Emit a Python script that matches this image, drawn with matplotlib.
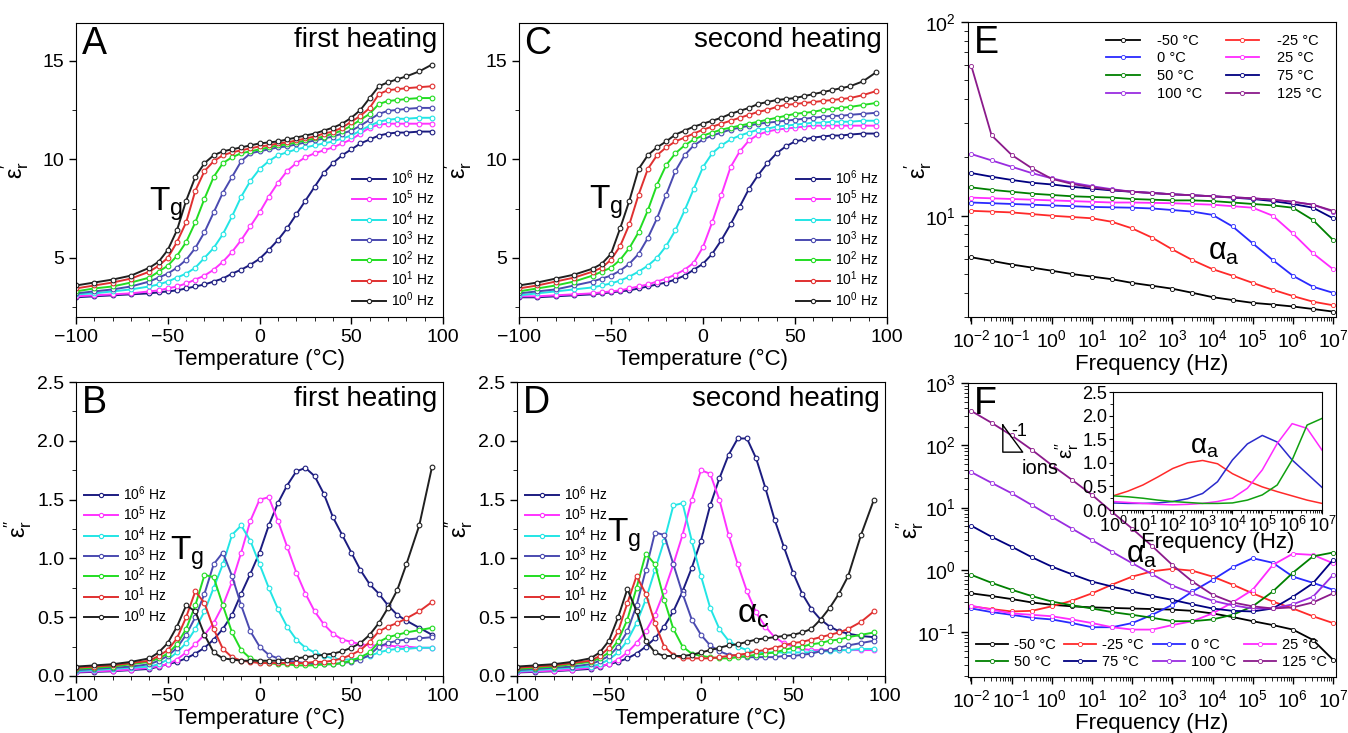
import numpy as np
import matplotlib
matplotlib.use('Agg')
import matplotlib.pyplot as plt
from matplotlib.ticker import AutoMinorLocator, LogLocator, NullFormatter, FormatStrFormatter

plt.rcParams['font.family'] = ['Liberation Sans', 'DejaVu Sans']
plt.rcParams['mathtext.fontset'] = 'custom'
plt.rcParams['mathtext.rm'] = 'Liberation Sans'
plt.rcParams['mathtext.it'] = 'Liberation Sans:italic'
plt.rcParams['mathtext.default'] = 'regular'
plt.rcParams['xtick.direction'] = 'out'
plt.rcParams['ytick.direction'] = 'out'

# ---------------- temperature sweeps (panels A-D) ----------------
T = [-100, -90, -80, -70, -60, -55, -50, -45, -40, -35, -30, -25, -20, -15, -10, -5, 0, 5, 10,
     15, 20, 25, 30, 35, 40, 45, 50, 55, 60, 65, 70, 75, 80, 87, 94]

freq_labels = ['10$^6$ Hz', '10$^5$ Hz', '10$^4$ Hz', '10$^3$ Hz', '10$^2$ Hz', '10$^1$ Hz', '10$^0$ Hz']
freq_colors = ['#1c1c80', '#ff33ff', '#22e5e5', '#4a4ab0', '#22dd22', '#e03030', '#202020']

# A: eps' first heating
A_1e6 = [3.0, 3.05, 3.1, 3.15, 3.2, 3.25, 3.3, 3.35, 3.45, 3.55, 3.65, 3.8, 3.95, 4.2, 4.4, 4.65, 4.95, 5.4, 5.9,
         6.5, 7.2, 7.9, 8.6, 9.3, 9.8, 10.2, 10.5, 10.8, 11.0, 11.2, 11.3, 11.35, 11.35, 11.4, 11.4]
A_1e5 = [3.05, 3.1, 3.15, 3.2, 3.3, 3.35, 3.45, 3.55, 3.7, 3.9, 4.1, 4.4, 4.8, 5.3, 5.9, 6.6, 7.3, 8.1, 8.8,
         9.4, 9.8, 10.1, 10.3, 10.45, 10.6, 10.8, 11.0, 11.3, 11.6, 11.75, 11.8, 11.8, 11.8, 11.8, 11.8]
A_1e4 = [3.15, 3.2, 3.3, 3.4, 3.55, 3.65, 3.8, 4.0, 4.2, 4.5, 5.0, 5.5, 6.2, 7.1, 8.1, 8.9, 9.5, 9.9, 10.2,
         10.35, 10.5, 10.6, 10.7, 10.8, 10.9, 11.05, 11.2, 11.45, 11.7, 11.9, 12.0, 12.05, 12.05, 12.1, 12.1]
A_1e3 = [3.2, 3.3, 3.4, 3.55, 3.8, 4.0, 4.2, 4.5, 4.9, 5.5, 6.3, 7.3, 8.3, 9.1, 9.9, 10.3, 10.4, 10.5, 10.6,
         10.65, 10.75, 10.85, 10.95, 11.05, 11.15, 11.3, 11.45, 11.7, 12.0, 12.3, 12.45, 12.5, 12.55, 12.6, 12.6]
A_1e2 = [3.3, 3.45, 3.55, 3.75, 4.0, 4.3, 4.6, 5.1, 5.8, 6.8, 8.0, 9.1, 9.8, 10.1, 10.3, 10.4, 10.5, 10.6, 10.7,
         10.75, 10.85, 10.95, 11.05, 11.15, 11.3, 11.45, 11.7, 12.0, 12.3, 12.8, 12.95, 13.0, 13.05, 13.1, 13.1]
A_1e1 = [3.45, 3.6, 3.75, 3.95, 4.3, 4.6, 5.0, 5.8, 6.8, 8.4, 9.4, 9.9, 10.2, 10.35, 10.45, 10.55, 10.65, 10.7, 10.8,
         10.85, 10.95, 11.05, 11.15, 11.3, 11.4, 11.6, 11.9, 12.2, 12.6, 13.3, 13.5, 13.55, 13.6, 13.65, 13.7]
A_1e0 = [3.6, 3.75, 3.9, 4.1, 4.5, 4.8, 5.4, 6.4, 7.9, 9.1, 9.8, 10.2, 10.4, 10.5, 10.6, 10.7, 10.8, 10.85, 10.9,
         11.0, 11.1, 11.2, 11.3, 11.45, 11.6, 11.8, 12.1, 12.5, 13.1, 13.7, 13.9, 14.05, 14.2, 14.45, 14.8]

# C: eps' second heating
C_1e6 = [3.0, 3.0, 3.05, 3.1, 3.15, 3.2, 3.25, 3.3, 3.35, 3.45, 3.55, 3.65, 3.75, 3.9, 4.1, 4.4, 4.7, 5.2, 5.9,
         6.7, 7.6, 8.5, 9.2, 9.8, 10.3, 10.65, 10.9, 11.0, 11.1, 11.15, 11.2, 11.2, 11.25, 11.3, 11.3]
C_1e5 = [3.05, 3.05, 3.1, 3.15, 3.2, 3.25, 3.3, 3.35, 3.45, 3.55, 3.65, 3.8, 3.95, 4.15, 4.4, 4.75, 5.55, 6.8, 8.2,
         9.6, 10.4, 10.95, 11.25, 11.4, 11.5, 11.55, 11.6, 11.65, 11.7, 11.7, 11.7, 11.7, 11.7, 11.7, 11.7]
C_1e4 = [3.1, 3.2, 3.3, 3.4, 3.5, 3.6, 3.7, 3.85, 4.05, 4.3, 4.6, 5.0, 5.6, 6.4, 7.4, 8.5, 9.6, 10.3, 10.7,
         11.0, 11.2, 11.35, 11.5, 11.55, 11.65, 11.7, 11.75, 11.8, 11.85, 11.85, 11.9, 11.9, 11.9, 11.95, 11.95]
C_1e3 = [3.2, 3.3, 3.4, 3.6, 3.8, 3.95, 4.1, 4.35, 4.7, 5.2, 6.0, 7.0, 8.2, 9.4, 10.2, 10.7, 11.0, 11.2, 11.35,
         11.5, 11.6, 11.7, 11.8, 11.85, 11.9, 11.95, 12.0, 12.05, 12.1, 12.15, 12.2, 12.2, 12.25, 12.3, 12.35]
C_1e2 = [3.3, 3.45, 3.6, 3.8, 4.1, 4.3, 4.5, 4.9, 5.5, 6.3, 7.4, 8.7, 9.7, 10.3, 10.7, 11.0, 11.2, 11.35, 11.5,
         11.6, 11.7, 11.8, 11.9, 12.0, 12.1, 12.2, 12.3, 12.35, 12.4, 12.5, 12.55, 12.6, 12.65, 12.75, 12.85]
C_1e1 = [3.45, 3.6, 3.8, 4.0, 4.3, 4.5, 4.9, 5.6, 6.7, 8.2, 9.5, 10.2, 10.6, 10.9, 11.1, 11.3, 11.5, 11.65, 11.8,
         11.95, 12.1, 12.25, 12.4, 12.5, 12.65, 12.75, 12.8, 12.85, 12.9, 12.95, 13.0, 13.05, 13.1, 13.25, 13.45]
C_1e0 = [3.6, 3.75, 3.95, 4.15, 4.45, 4.7, 5.2, 6.5, 7.9, 9.5, 10.2, 10.6, 10.9, 11.25, 11.45, 11.65, 11.8, 11.95, 12.1,
         12.3, 12.45, 12.6, 12.8, 12.9, 13.0, 13.05, 13.1, 13.2, 13.3, 13.4, 13.5, 13.6, 13.7, 13.95, 14.4]

# B: eps'' first heating
B_1e6 = [0.03, 0.035, 0.04, 0.05, 0.06, 0.08, 0.1, 0.12, 0.15, 0.19, 0.24, 0.31, 0.4, 0.52, 0.7, 0.87, 1.05, 1.28, 1.47,
         1.62, 1.74, 1.77, 1.7, 1.55, 1.35, 1.2, 1.05, 0.9, 0.78, 0.7, 0.6, 0.52, 0.47, 0.41, 0.35]
B_1e5 = [0.035, 0.04, 0.045, 0.055, 0.07, 0.085, 0.1, 0.14, 0.2, 0.27, 0.35, 0.45, 0.6, 0.8, 1.05, 1.32, 1.5, 1.52, 1.32,
         1.1, 0.88, 0.7, 0.55, 0.44, 0.36, 0.31, 0.29, 0.27, 0.26, 0.26, 0.26, 0.25, 0.25, 0.24, 0.24]
B_1e4 = [0.04, 0.05, 0.06, 0.07, 0.08, 0.1, 0.14, 0.2, 0.28, 0.4, 0.55, 0.75, 0.95, 1.2, 1.28, 1.15, 0.95, 0.75, 0.57,
         0.42, 0.31, 0.24, 0.2, 0.17, 0.15, 0.14, 0.14, 0.15, 0.17, 0.2, 0.22, 0.23, 0.23, 0.24, 0.24]
B_1e3 = [0.05, 0.06, 0.07, 0.08, 0.1, 0.13, 0.17, 0.24, 0.35, 0.5, 0.7, 0.95, 1.05, 0.85, 0.6, 0.38, 0.25, 0.18, 0.15,
         0.13, 0.12, 0.11, 0.1, 0.1, 0.1, 0.11, 0.12, 0.14, 0.18, 0.25, 0.28, 0.3, 0.31, 0.32, 0.33]
B_1e2 = [0.06, 0.07, 0.08, 0.1, 0.12, 0.15, 0.19, 0.27, 0.4, 0.6, 0.86, 0.84, 0.6, 0.37, 0.22, 0.15, 0.12, 0.11, 0.1,
         0.1, 0.09, 0.09, 0.09, 0.1, 0.1, 0.11, 0.13, 0.16, 0.2, 0.29, 0.33, 0.35, 0.37, 0.39, 0.41]
B_1e1 = [0.07, 0.08, 0.09, 0.11, 0.13, 0.17, 0.22, 0.32, 0.5, 0.72, 0.62, 0.4, 0.23, 0.16, 0.13, 0.12, 0.11, 0.11, 0.11,
         0.11, 0.11, 0.11, 0.12, 0.12, 0.13, 0.15, 0.18, 0.22, 0.29, 0.38, 0.42, 0.45, 0.49, 0.55, 0.63]
B_1e0 = [0.08, 0.09, 0.1, 0.12, 0.15, 0.2, 0.28, 0.42, 0.6, 0.55, 0.35, 0.2, 0.15, 0.14, 0.13, 0.13, 0.13, 0.13, 0.13,
         0.14, 0.15, 0.16, 0.17, 0.18, 0.19, 0.21, 0.24, 0.28, 0.35, 0.45, 0.58, 0.73, 0.95, 1.28, 1.78]

# D: eps'' second heating
D_1e6 = [0.03, 0.035, 0.04, 0.05, 0.06, 0.08, 0.1, 0.12, 0.15, 0.19, 0.25, 0.32, 0.42, 0.55, 0.72, 0.92, 1.15, 1.45, 1.68,
         1.88, 2.02, 2.02, 1.85, 1.6, 1.33, 1.1, 0.88, 0.7, 0.57, 0.48, 0.42, 0.38, 0.36, 0.34, 0.33]
D_1e5 = [0.035, 0.04, 0.045, 0.055, 0.07, 0.085, 0.1, 0.14, 0.2, 0.28, 0.38, 0.52, 0.72, 0.95, 1.2, 1.5, 1.75, 1.72, 1.5,
         1.2, 0.95, 0.72, 0.54, 0.42, 0.33, 0.28, 0.25, 0.23, 0.22, 0.22, 0.22, 0.22, 0.22, 0.22, 0.22]
D_1e4 = [0.04, 0.05, 0.06, 0.07, 0.08, 0.1, 0.14, 0.2, 0.3, 0.45, 0.65, 0.9, 1.15, 1.45, 1.47, 1.15, 0.85, 0.58, 0.4,
         0.3, 0.25, 0.22, 0.2, 0.2, 0.2, 0.2, 0.2, 0.2, 0.2, 0.21, 0.21, 0.22, 0.22, 0.23, 0.23]
D_1e3 = [0.05, 0.06, 0.07, 0.08, 0.1, 0.13, 0.17, 0.25, 0.38, 0.6, 0.9, 1.22, 1.2, 0.95, 0.7, 0.48, 0.35, 0.26, 0.21,
         0.18, 0.17, 0.16, 0.16, 0.16, 0.16, 0.17, 0.17, 0.18, 0.19, 0.21, 0.22, 0.24, 0.26, 0.28, 0.3]
D_1e2 = [0.06, 0.07, 0.08, 0.1, 0.12, 0.15, 0.2, 0.3, 0.48, 0.75, 1.04, 0.95, 0.65, 0.4, 0.25, 0.19, 0.17, 0.16, 0.15,
         0.15, 0.16, 0.17, 0.18, 0.19, 0.2, 0.22, 0.24, 0.25, 0.27, 0.28, 0.3, 0.31, 0.33, 0.35, 0.37]
D_1e1 = [0.07, 0.08, 0.09, 0.11, 0.13, 0.17, 0.24, 0.38, 0.62, 0.85, 0.7, 0.45, 0.25, 0.18, 0.15, 0.15, 0.15, 0.15, 0.16,
         0.17, 0.18, 0.19, 0.21, 0.22, 0.24, 0.26, 0.28, 0.29, 0.31, 0.33, 0.35, 0.37, 0.4, 0.46, 0.55]
D_1e0 = [0.08, 0.09, 0.1, 0.12, 0.15, 0.2, 0.3, 0.5, 0.74, 0.55, 0.3, 0.2, 0.17, 0.17, 0.17, 0.18, 0.2, 0.22, 0.24,
         0.26, 0.27, 0.29, 0.31, 0.32, 0.33, 0.34, 0.35, 0.37, 0.4, 0.48, 0.58, 0.7, 0.85, 1.2, 1.5]

# ---------------- frequency sweeps (panels E-F) ----------------
logf = [-2, -1.5, -1, -0.5, 0, 0.5, 1, 1.5, 2, 2.5, 3, 3.5, 4, 4.5, 5, 5.5, 6, 6.5, 7]
temp_labels = ['-50 °C', '-25 °C', '0 °C', '25 °C', '50 °C', '75 °C', '100 °C', '125 °C']
temp_colors = ['#000000', '#ff2a2a', '#2a2aff', '#ff2aff', '#008000', '#000080', '#9a2de0', '#8b1a8b']

E_m50 = [6.1, 5.85, 5.6, 5.4, 5.2, 5.0, 4.85, 4.7, 4.5, 4.35, 4.2, 4.0, 3.8, 3.67, 3.55, 3.48, 3.4, 3.3, 3.2]
E_m25 = [10.6, 10.5, 10.4, 10.2, 10.0, 9.85, 9.7, 9.3, 8.6, 7.7, 6.7, 5.9, 5.3, 4.9, 4.5, 4.15, 3.85, 3.6, 3.45]
E_0 = [11.7, 11.6, 11.5, 11.4, 11.3, 11.2, 11.1, 11.05, 11.0, 10.9, 10.7, 10.5, 10.1, 8.8, 7.2, 5.9, 4.9, 4.3, 4.0]
E_25 = [12.4, 12.3, 12.2, 12.1, 12.0, 11.9, 11.8, 11.7, 11.7, 11.65, 11.6, 11.5, 11.4, 11.2, 11.0, 10.0, 8.1, 6.4, 5.3]
E_50 = [14.0, 13.6, 13.3, 13.0, 12.8, 12.6, 12.5, 12.4, 12.2, 12.1, 12.0, 12.0, 11.9, 11.7, 11.5, 11.3, 11.0, 9.5, 7.5]
E_75 = [16.6, 15.9, 15.3, 14.8, 14.5, 14.1, 13.8, 13.5, 13.3, 13.1, 12.9, 12.75, 12.6, 12.4, 12.2, 11.9, 11.5, 11.0, 9.7]
E_100 = [20.8, 19.3, 17.9, 16.6, 15.6, 14.8, 14.2, 13.7, 13.3, 13.1, 12.9, 12.75, 12.6, 12.45, 12.3, 12.1, 11.8, 11.4, 10.5]
E_125 = [59, 26, 20.6, 17.6, 15.5, 14.6, 14.0, 13.6, 13.3, 13.1, 12.9, 12.75, 12.6, 12.45, 12.3, 12.1, 11.8, 11.4, 10.6]

F_m50 = [0.42, 0.38, 0.34, 0.3, 0.275, 0.26, 0.25, 0.245, 0.24, 0.235, 0.23, 0.22, 0.2, 0.175, 0.15, 0.13, 0.11, 0.075, 0.036]
F_m25 = [0.26, 0.235, 0.215, 0.22, 0.26, 0.32, 0.42, 0.58, 0.78, 0.95, 1.04, 0.97, 0.78, 0.58, 0.42, 0.31, 0.24, 0.18, 0.14]
F_0 = [0.24, 0.21, 0.19, 0.17, 0.16, 0.14, 0.12, 0.12, 0.14, 0.19, 0.275, 0.45, 0.69, 1.1, 1.54, 1.3, 0.78, 0.62, 0.48]
F_25 = [0.265, 0.23, 0.2, 0.19, 0.18, 0.16, 0.14, 0.12, 0.11, 0.11, 0.13, 0.15, 0.2, 0.3, 0.48, 1.2, 1.82, 1.74, 1.28]
F_50 = [0.83, 0.62, 0.48, 0.38, 0.31, 0.27, 0.24, 0.21, 0.19, 0.17, 0.15, 0.15, 0.16, 0.19, 0.26, 0.45, 0.9, 1.65, 1.9]
F_75 = [5.1, 3.4, 2.36, 1.6, 1.13, 0.85, 0.65, 0.54, 0.45, 0.38, 0.33, 0.28, 0.24, 0.22, 0.215, 0.24, 0.37, 0.61, 1.45]
F_100 = [37, 25, 17, 11, 7.1, 4.6, 3.0, 1.95, 1.28, 0.85, 0.56, 0.42, 0.32, 0.27, 0.24, 0.24, 0.28, 0.37, 0.83]
F_125 = [355, 230, 144, 85, 48, 28, 16, 8.5, 4.6, 2.4, 1.2, 0.65, 0.4, 0.3, 0.26, 0.24, 0.25, 0.3, 0.42]

# inset of F (alpha_a relaxation, linear scale)
logf_in = [0, 0.5, 1, 1.5, 2, 2.5, 3, 3.5, 4, 4.5, 5, 5.5, 6, 6.5, 7]
in_m25 = [0.30, 0.4, 0.53, 0.7, 0.88, 1.0, 1.05, 0.98, 0.77, 0.62, 0.49, 0.39, 0.30, 0.21, 0.14]
in_0 = [0.15, 0.14, 0.14, 0.15, 0.18, 0.24, 0.35, 0.6, 1.06, 1.4, 1.58, 1.44, 1.06, 0.77, 0.48]
in_25 = [0.18, 0.16, 0.14, 0.12, 0.11, 0.12, 0.14, 0.18, 0.25, 0.46, 0.85, 1.41, 1.83, 1.73, 1.27]
in_50 = [0.30, 0.28, 0.25, 0.21, 0.18, 0.16, 0.14, 0.14, 0.15, 0.21, 0.32, 0.53, 1.06, 1.80, 1.94]


def style_lin(ax, ylim, ymaj):
    ax.set_xlim(-100, 100)
    ax.set_ylim(*ylim)
    ax.set_xticks([-100, -50, 0, 50, 100])
    ax.set_yticks(ymaj)
    ax.xaxis.set_minor_locator(AutoMinorLocator(5))
    ax.yaxis.set_minor_locator(AutoMinorLocator(2))
    ax.tick_params(labelsize=14, length=5, width=1)
    ax.tick_params(which='minor', length=3)
    ax.set_xlabel('Temperature (°C)', fontsize=16, labelpad=2)


def temp_panel(ax, curves, ylim, ymaj, ylabel, letter, title, tg, leg, ypad):
    for y, lab, c in zip(curves, freq_labels, freq_colors):
        ax.plot(T, y, '-o', color=c, lw=1.4, ms=3.4, mfc='white', mec=c, mew=0.8, label=lab)
    style_lin(ax, ylim, ymaj)
    ax.set_ylabel(ylabel, fontsize=17, labelpad=ypad)
    ax.text(0.015, 0.99, letter, transform=ax.transAxes, fontsize=27, va='top', ha='left')
    ax.text(0.985, 0.985, title, transform=ax.transAxes, fontsize=20, va='top', ha='right')
    ax.text(tg[0], tg[1], 'T$_g$', fontsize=24, va='baseline', ha='left')
    ax.legend(loc=leg[0], bbox_to_anchor=leg[1], frameon=False, fontsize=10, handlelength=2.4,
              handletextpad=0.4, labelspacing=0.12, borderaxespad=0.2, numpoints=1, markerscale=0.9)


def style_log(ax):
    ax.set_xscale('log')
    ax.set_yscale('log')
    ax.set_xlim(10 ** -2.09, 10 ** 7.07)
    ax.xaxis.set_major_locator(LogLocator(base=10, numticks=20))
    ax.xaxis.set_minor_locator(LogLocator(base=10, subs=np.arange(2, 10), numticks=20))
    ax.xaxis.set_minor_formatter(NullFormatter())
    ax.yaxis.set_major_locator(LogLocator(base=10, numticks=20))
    ax.yaxis.set_minor_locator(LogLocator(base=10, subs=np.arange(2, 10), numticks=20))
    ax.yaxis.set_minor_formatter(NullFormatter())
    ax.tick_params(labelsize=14, length=5, width=1)
    ax.tick_params(which='minor', length=3)
    ax.set_xlabel('Frequency (Hz)', fontsize=16, labelpad=2)


def freq_panel(ax, curves):
    f = 10.0 ** np.array(logf)
    lines = []
    for y, lab, c in zip(curves, temp_labels, temp_colors):
        l, = ax.plot(f, y, '-o', color=c, lw=1.3, ms=3.0, mfc='white', mec=c, mew=0.6, label=lab)
        lines.append(l)
    style_log(ax)
    return lines


fig = plt.figure(figsize=(13.48, 7.33), dpi=100)

axA = fig.add_axes([0.0564, 0.5675, 0.2723, 0.401])
axB = fig.add_axes([0.0564, 0.0778, 0.2723, 0.401])
axC = fig.add_axes([0.385, 0.5675, 0.2730, 0.401])
axD = fig.add_axes([0.3835, 0.0778, 0.2730, 0.401])
axE = fig.add_axes([0.718, 0.5675, 0.273, 0.4025])
axF = fig.add_axes([0.718, 0.0764, 0.273, 0.401])

eps1 = r"$ε_r^{\prime}$"
eps2 = r"$ε_r^{\prime\prime}$"

temp_panel(axA, [A_1e6, A_1e5, A_1e4, A_1e3, A_1e2, A_1e1, A_1e0], (2, 16.9), [5, 10, 15], eps1,
           'A', 'first heating', (-60, 7.4), ('lower right', (1.0, 0.0)), 8)
temp_panel(axC, [C_1e6, C_1e5, C_1e4, C_1e3, C_1e2, C_1e1, C_1e0], (2, 16.9), [5, 10, 15], eps1,
           'C', 'second heating', (-62, 7.5), ('lower right', (1.0, 0.0)), 8)
temp_panel(axB, [B_1e6, B_1e5, B_1e4, B_1e3, B_1e2, B_1e1, B_1e0], (0, 2.5), [0, 0.5, 1.0, 1.5, 2.0, 2.5], eps2,
           'B', 'first heating', (-49, 0.99), ('upper left', (0.0, 0.68)), 2)
temp_panel(axD, [D_1e6, D_1e5, D_1e4, D_1e3, D_1e2, D_1e1, D_1e0], (0, 2.5), [0, 0.5, 1.0, 1.5, 2.0, 2.5], eps2,
           'D', 'second heating', (-51, 1.14), ('upper left', (0.0, 0.68)), 2)
for ax in (axB, axD):
    ax.yaxis.set_major_formatter(FormatStrFormatter('%.1f'))
axD.text(19.6, 0.45, r'α$_c$', fontsize=24, va='baseline')

# E
linesE = freq_panel(axE, [E_m50, E_m25, E_0, E_25, E_50, E_75, E_100, E_125])
axE.set_ylim(3.0, 100)
axE.set_ylabel(eps1, fontsize=17, labelpad=-6)
axE.text(0.015, 0.99, 'E', transform=axE.transAxes, fontsize=27, va='top', ha='left')
axE.text(10 ** 3.89, 5.9, r'α$_a$', fontsize=22, va='baseline')
orderE = [0, 2, 4, 6, 1, 3, 5, 7]
axE.legend([linesE[i] for i in orderE], [temp_labels[i] for i in orderE], ncol=2, loc='upper right',
           bbox_to_anchor=(0.985, 0.99), frameon=False, fontsize=10.5, handlelength=2.3, handletextpad=1.2,
           columnspacing=1.6, labelspacing=0.25, numpoints=1, borderaxespad=0.2)

# F
linesF = freq_panel(axF, [F_m50, F_m25, F_0, F_25, F_50, F_75, F_100, F_125])
axF.set_ylim(10 ** -1.72, 1e3)
axF.set_ylabel(eps2, fontsize=17, labelpad=-6)
axF.text(0.015, 0.99, 'F', transform=axF.transAxes, fontsize=27, va='top', ha='left')
axF.text(10 ** 1.84, 1.28, r'α$_a$', fontsize=22, va='baseline')
orderF = [0, 4, 1, 5, 2, 6, 3, 7]
axF.legend([linesF[i] for i in orderF], [temp_labels[i] for i in orderF], ncol=4, loc='lower left',
           bbox_to_anchor=(0.0, 0.0), frameon=False, fontsize=10.5, handlelength=2.2, handletextpad=0.4,
           columnspacing=0.6, labelspacing=0.2, numpoints=1, borderaxespad=0.15)
# slope triangle for ionic conduction
axF.plot([0.095, 0.095, 0.149, 0.095], [0.857, 0.765, 0.765, 0.857], transform=axF.transAxes,
         color='k', lw=1.0)
axF.text(0.118, 0.835, '-1', transform=axF.transAxes, fontsize=13, va='center', ha='left')
axF.text(0.147, 0.71, 'ions', transform=axF.transAxes, fontsize=14.5, va='center', ha='left')

# inset
axI = fig.add_axes([0.8257, 0.3042, 0.155, 0.161])
fi = 10.0 ** np.array(logf_in)
for y, c in zip([in_m25, in_0, in_25, in_50], ['#ff2a2a', '#2a2acc', '#ff2aff', '#10a010']):
    axI.plot(fi, y, '-', color=c, lw=1.1)
axI.set_xscale('log')
axI.set_xlim(1, 1e7)
axI.set_ylim(0, 2.5)
axI.set_yticks([0, 0.5, 1.0, 1.5, 2.0, 2.5])
axI.yaxis.set_major_formatter(FormatStrFormatter('%.1f'))
axI.yaxis.set_minor_locator(AutoMinorLocator(2))
axI.xaxis.set_major_locator(LogLocator(base=10, numticks=20))
axI.xaxis.set_minor_locator(LogLocator(base=10, subs=np.arange(2, 10), numticks=20))
axI.xaxis.set_minor_formatter(NullFormatter())
axI.tick_params(labelsize=13, length=3, pad=1)
axI.tick_params(which='minor', length=2)
axI.set_xlabel('Frequency (Hz)', fontsize=16, labelpad=-3)
axI.set_ylabel(eps2, fontsize=15, labelpad=1)
axI.text(10 ** 2.57, 1.2, r'α$_a$', fontsize=20, va='baseline')

fig.savefig('out.png', dpi=100)
